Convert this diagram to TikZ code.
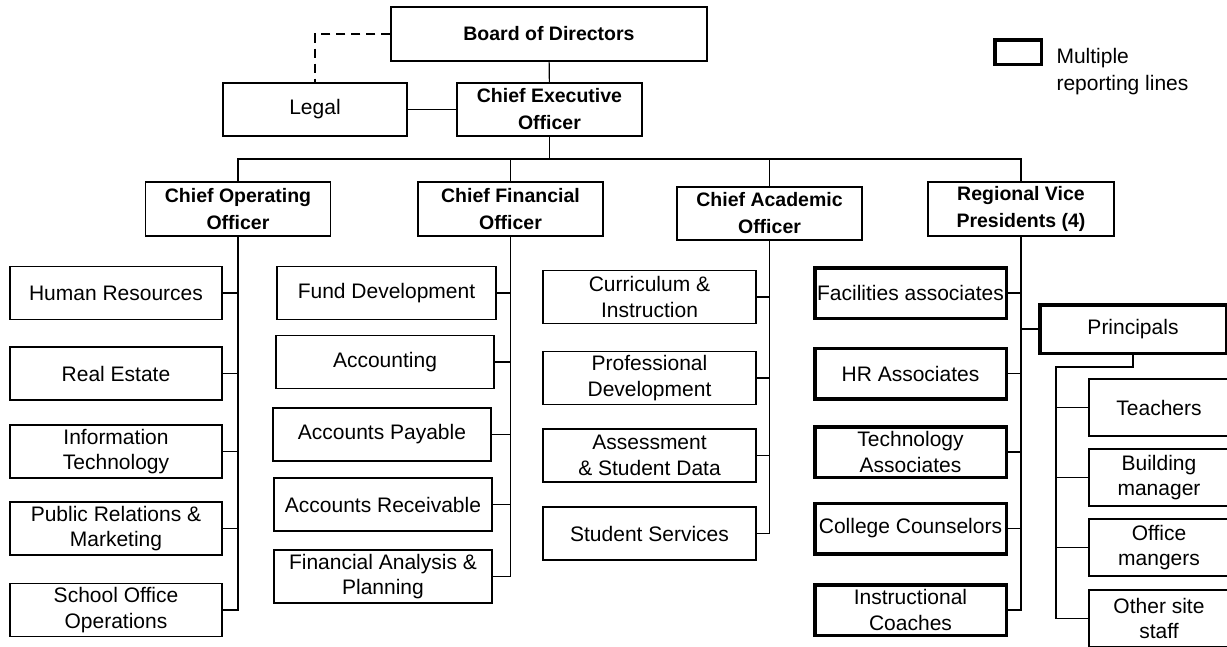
\documentclass[tikz,border=0pt]{standalone}
\usepackage{fontspec}
\setmainfont{Liberation Sans}
\usetikzlibrary{positioning}

\begin{document}
\begin{tikzpicture}[x=1pt, y=-1pt, line width=1.1pt]
\tikzset{
  box/.style   = {rectangle, draw, align=center, inner sep=0pt, minimum height=53pt, font=\fontsize{21}{25.7}\selectfont},
  head/.style  = {box, minimum width=185pt, font=\fontsize{19.5}{27}\selectfont\bfseries},
  multi/.style = {box, line width=3.5pt, minimum width=191.5pt, minimum height=50.5pt}
}
\useasboundingbox (0,0) rectangle (1227,646);
\clip (0,0) rectangle (1227,646);

% Board and executive
\node[head, minimum width=316pt, minimum height=54pt] (board) at (549,34) {Board of Directors};
\node[box, minimum width=184pt] (legal) at (315,109.5) {Legal};
\node[head] (ceo) at (549.5,109.5) {Chief Executive\\Officer};

% Officers
\node[head, minimum height=54pt] (coo) at (238,209) {Chief Operating\\Officer};
\node[head, minimum height=54pt] (cfo) at (510.5,209) {Chief Financial\\Officer};
\node[head] (cao) at (769.5,213.5) {Chief Academic\\Officer};
\node[head, minimum width=186pt, minimum height=54pt] (rvp) at (1021,209) {Regional Vice\\Presidents (4)};

% Operations
\node[box, minimum width=212pt] (hr)     at (116,293)   {Human Resources};
\node[box, minimum width=212pt] (estate) at (116,373.5) {Real Estate};
\node[box, minimum width=212pt] (it)     at (116,451.5) {Information\\Technology};
\node[box, minimum width=212pt] (pr)     at (116,528.5) {Public Relations \&\\Marketing};
\node[box, minimum width=212pt] (ops)    at (116,610)   {School Office\\Operations};

% Finance
\node[box, minimum width=219pt] (fund)  at (386.5,293)   {Fund Development};
\node[box, minimum width=218pt] (acct)  at (385,362)     {Accounting};
\node[box, minimum width=218pt] (pay)   at (382,434.5)   {Accounts Payable};
\node[box, minimum width=218pt] (recv)  at (383,504.5)   {Accounts Receivable};
\node[box, minimum width=218pt] (plan)  at (383,576.5)   {Financial Analysis \&\\Planning};

% Academics
\node[box, minimum width=213pt] (curr)   at (649.5,297)   {Curriculum \&\\Instruction};
\node[box, minimum width=213pt] (pd)     at (649.5,378)   {Professional\\Development};
\node[box, minimum width=213pt] (assess) at (649.5,455.5) {Assessment\\\& Student Data};
\node[box, minimum width=213pt] (serv)   at (649.5,533.5) {Student Services};

% Regions
\node[multi] (fac)   at (910.5,293)   {Facilities associates};
\node[multi] (hra)   at (910.5,373.5) {HR Associates};
\node[multi] (tech)  at (910.5,452)   {Technology\\Associates};
\node[multi] (coll)  at (910.5,528.5) {College Counselors};
\node[multi] (coach) at (910.5,610)   {Instructional\\Coaches};
\node[multi, minimum width=186.5pt, minimum height=48.5pt] (principals) at (1133,329) {Principals};

% School sites
\node[box, minimum width=140pt, minimum height=57pt] (teach)  at (1159,407.5) {Teachers};
\node[box, minimum width=140pt, minimum height=57pt] (build)  at (1159,477.5) {Building\\manager};
\node[box, minimum width=140pt, minimum height=57pt] (office) at (1159,547.5) {Office\\mangers};
\node[box, minimum width=140pt, minimum height=57pt] (other)  at (1159,618.5) {Other site\\staff};

% Legend
\node[multi, minimum width=46.5pt, minimum height=24.5pt] (key) at (1018,52) {};
\node[anchor=west, align=left, inner sep=0pt, font=\fontsize{21}{27}\selectfont] (keytext) at (1056,72) {Multiple\\reporting lines};

% Edges
\draw (board) -- (ceo);
\draw (legal) -- (ceo);
\draw[line width=2pt, dash pattern=on 9pt off 6pt] (board.west) -| (legal.north);

\coordinate (bus) at (549.5,159);
\draw (ceo.south) -- (bus);
\draw (coo.north) |- (bus) -| (rvp.north);
\draw (cfo.north) -- (cfo.north |- bus);
\draw (cao.north) -- (cao.north |- bus);

\draw (coo.south) |- (ops.east);
\draw (hr.east)     -- (hr.east -| coo.south);
\draw (estate.east) -- (estate.east -| coo.south);
\draw (it.east)     -- (it.east -| coo.south);
\draw (pr.east)     -- (pr.east -| coo.south);

\draw (cfo.south) |- (plan.east);
\draw (fund.east) -- (fund.east -| cfo.south);
\draw (acct.east) -- (acct.east -| cfo.south);
\draw (pay.east)  -- (pay.east -| cfo.south);
\draw (recv.east) -- (recv.east -| cfo.south);

\draw (cao.south) |- (serv.east);
\draw (curr.east)   -- (curr.east -| cao.south);
\draw (pd.east)     -- (pd.east -| cao.south);
\draw (assess.east) -- (assess.east -| cao.south);

\draw (rvp.south) |- (coach.east);
\draw (fac.east)  -- (fac.east -| rvp.south);
\draw (hra.east)  -- (hra.east -| rvp.south);
\draw (tech.east) -- (tech.east -| rvp.south);
\draw (coll.east) -- (coll.east -| rvp.south);
\draw (principals.west) -- (principals.west -| rvp.south);

\coordinate (sites) at (1056,367);
\draw[line width=2pt] (principals.south) |- (sites) -- (sites |- office.west);
\draw (sites |- office.west) |- (other.west);
\draw (teach.west)  -- (teach.west -| sites);
\draw (build.west)  -- (build.west -| sites);
\draw (office.west) -- (office.west -| sites);

\end{tikzpicture}
\end{document}
